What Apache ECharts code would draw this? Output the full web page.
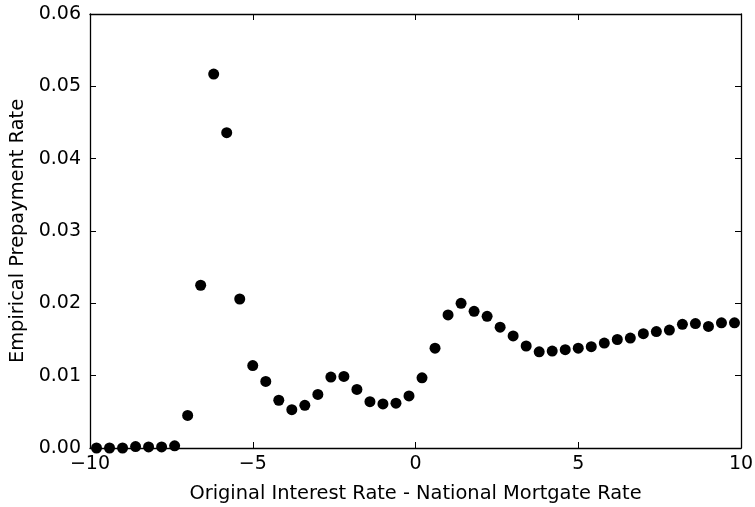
<!DOCTYPE html>
<html>
<head>
<meta charset="utf-8">
<script src="https://cdn.jsdelivr.net/npm/echarts@6/dist/echarts.min.js"></script>
<style>html,body{margin:0;padding:0;background:#fff}#c{width:755px;height:507px}</style>
</head>
<body>
<div id="c"></div>
<script>
const xValues = [-9.8,-9.4,-9.0,-8.6,-8.2,-7.8,-7.4,-7.0,-6.6,-6.2,-5.8,-5.4,-5.0,-4.6,-4.2,-3.8,-3.4,-3.0,-2.6,-2.2,-1.8,-1.4,-1.0,-0.6,-0.2,0.2,0.6,1.0,1.4,1.8,2.2,2.6,3.0,3.4,3.8,4.2,4.6,5.0,5.4,5.8,6.2,6.6,7.0,7.4,7.8,8.2,8.6,9.0,9.4,9.8];
const yValues = [0,0,0,0.0002,0.00015,0.00015,0.0003,0.0045,0.0225,0.0517,0.0436,0.0206,0.0114,0.0092,0.0066,0.0053,0.0059,0.0074,0.0098,0.0099,0.0081,0.0064,0.0061,0.0062,0.0072,0.0097,0.0138,0.0184,0.0200,0.0189,0.0182,0.0167,0.0155,0.0141,0.0133,0.0134,0.0136,0.0138,0.0140,0.0145,0.0150,0.0152,0.0158,0.0161,0.0163,0.0171,0.0172,0.0168,0.0173,0.0173];
const xTitle = 'Original Interest Rate - National Mortgate Rate';
const yTitle = 'Empirical Prepayment Rate';

const font = 'DejaVu Sans';
const fs = 19;
const fsTitle = 19.4;
const lineStyle = {color:'#000', width:1.3};
const tickStyle = {show:true, inside:true, length:6, lineStyle:{color:'#000', width:1}};
const fmtX = v => (v < 0 ? '\u2212' + Math.abs(v) : String(v));

const chart = echarts.init(document.getElementById('c'), null, {renderer:'canvas'});
chart.setOption({
  animation:false,
  backgroundColor:'#fff',
  grid:{left:90, right:14, top:14, bottom:59, containLabel:false, outerBoundsMode:'none'},
  xAxis:[
    {type:'value', min:-10, max:10, interval:5, position:'bottom',
     axisLine:{show:true, onZero:false, lineStyle}, axisTick:tickStyle, splitLine:{show:false},
     axisLabel:{formatter:fmtX, color:'#000', fontFamily:font, fontSize:fs, margin:7},
     name:xTitle, nameLocation:'middle', nameGap:36, nameTextStyle:{color:'#000', fontFamily:font, fontSize:fsTitle}},
    {type:'value', min:-10, max:10, interval:5, position:'top',
     axisLine:{show:true, onZero:false, lineStyle}, axisTick:tickStyle, splitLine:{show:false}, axisLabel:{show:false}}
  ],
  yAxis:[
    {type:'value', min:0, max:0.06, interval:0.01, position:'left',
     axisLine:{show:true, onZero:false, lineStyle}, axisTick:tickStyle, splitLine:{show:false},
     axisLabel:{formatter:v => v.toFixed(2), color:'#000', fontFamily:font, fontSize:fs, margin:9},
     name:yTitle, nameLocation:'middle', nameGap:63, nameTextStyle:{color:'#000', fontFamily:font, fontSize:fsTitle}},
    {type:'value', min:0, max:0.06, interval:0.01, position:'right',
     axisLine:{show:true, onZero:false, lineStyle}, axisTick:tickStyle, splitLine:{show:false}, axisLabel:{show:false}}
  ],
  series:[{
    type:'scatter', xAxisIndex:0, yAxisIndex:0,
    symbol:'circle', symbolSize:11,
    itemStyle:{color:'#000', opacity:1},
    data:xValues.map((x,i)=>[x, yValues[i]])
  }]
});
</script>
</body>
</html>
